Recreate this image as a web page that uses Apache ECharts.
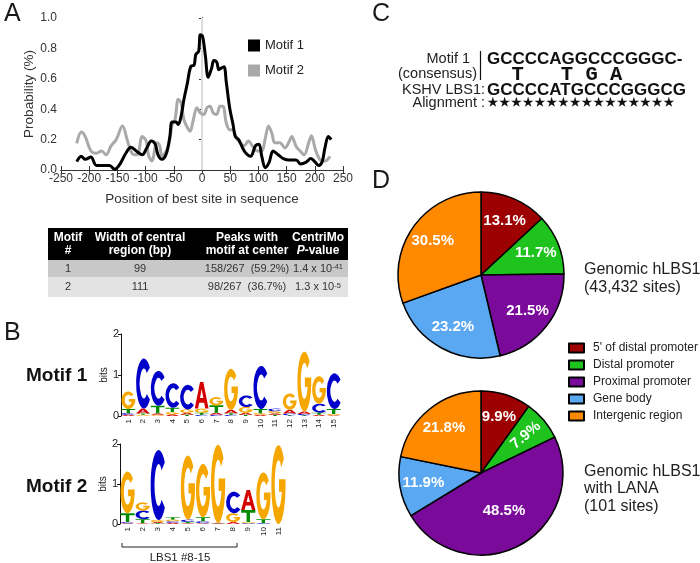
<!DOCTYPE html>
<html><head><meta charset="utf-8">
<script src="https://cdn.jsdelivr.net/npm/echarts@6/dist/echarts.min.js"></script>
<style>html,body{margin:0;padding:0;background:#fff}#c{width:700px;height:563px}</style>
</head><body><div id="c"></div><script>
// ---------- Panel A data ----------
const posTicks = [-250,-200,-150,-100,-50,0,50,100,150,200,250];
const motif1X = [-222,-214,-207,-197,-187,-164,-155,-147,-135,-126,-115,-106,-98,-90,-83,-78,-71,-63,-57,-53,-46,-42,-37,-32,-26,-20,-14,-11,-6,-3,1,6,11,17,21,26,30,34,39,43,49,55,59,65,72,78,86,95,101,106,112,119,126,135,144,155,167,175,184,193,201,207,213,218,224,229];
const motif1Y = [0.055,0.09,0.07,0.085,0.03,0.03,0.005,0.03,0.11,0.15,0.12,0.10,0.145,0.19,0.17,0.10,0.07,0.11,0.22,0.315,0.315,0.30,0.355,0.465,0.57,0.68,0.69,0.76,0.78,0.89,0.88,0.75,0.61,0.67,0.72,0.71,0.66,0.67,0.68,0.58,0.41,0.30,0.22,0.20,0.145,0.11,0.09,0.16,0.17,0.09,0.015,0.05,0.125,0.10,0.075,0.065,0.065,0.04,0.05,0.075,0.05,0.03,0.055,0.145,0.22,0.20];
const motif2X = [-222,-214,-207,-197,-187,-178,-170,-161,-152,-141,-132,-124,-115,-106,-99,-95,-89,-80,-75,-71,-62,-57,-53,-48,-42,-37,-32,-26,-21,-16,-9,-3,3,9,14,20,26,32,37,43,49,55,60,67,75,82,90,98,106,112,118,124,129,138,147,155,159,167,174,181,190,194,201,210,218,227];
const motif2Y = [0.175,0.25,0.22,0.125,0.11,0.125,0.10,0.16,0.20,0.29,0.19,0.11,0.10,0.22,0.19,0.10,0.06,0.18,0.16,0.09,0.135,0.20,0.30,0.33,0.465,0.44,0.33,0.28,0.255,0.32,0.41,0.375,0.365,0.41,0.42,0.375,0.365,0.42,0.42,0.31,0.265,0.265,0.22,0.18,0.16,0.19,0.155,0.125,0.125,0.205,0.29,0.24,0.18,0.18,0.145,0.19,0.22,0.155,0.125,0.10,0.19,0.225,0.135,0.065,0.06,0.09];

// ---------- Table data ----------
const tableHeaders = ['Motif\n#', 'Width of central\nregion (bp)', 'Peaks with\nmotif at center', 'CentriMo\nP-value'];
const tableMotif = ['1', '2'];
const tableWidth = ['99', '111'];
const tablePeaks = ['158/267', '98/267'];
const tablePct = ['(59.2%)', '(36.7%)'];
const tablePMant = ['1.4', '1.3'];
const tablePExp = ['-41', '-5'];

// ---------- Panel B data (letter stacks bottom->top, bits) ----------
const logo1Ticks = ['1','2','3','4','5','6','7','8','9','10','11','12','13','14','15'];
const logo1 = [
  [['A',0.03],['C',0.04],['T',0.1],['G',0.43]],
  [['G',0.03],['T',0.03],['A',0.12],['C',1.22]],
  [['G',0.03],['A',0.04],['T',0.18],['C',0.85]],
  [['A',0.04],['G',0.06],['T',0.1],['C',0.6]],
  [['T',0.03],['A',0.05],['G',0.08],['C',0.6]],
  [['C',0.03],['T',0.05],['G',0.1],['A',0.65]],
  [['C',0.03],['A',0.05],['T',0.18],['G',0.2]],
  [['C',0.03],['T',0.04],['A',0.08],['G',1.0]],
  [['T',0.03],['A',0.05],['G',0.14],['C',0.28]],
  [['A',0.03],['G',0.04],['T',0.1],['C',1.05]],
  [['T',0.03],['A',0.04],['G',0.05],['C',0.06]],
  [['T',0.02],['C',0.04],['A',0.09],['G',0.4]],
  [['T',0.02],['C',0.03],['A',0.06],['G',1.46]],
  [['A',0.03],['T',0.05],['C',0.22],['G',0.67]],
  [['A',0.02],['G',0.03],['T',0.12],['C',0.87]]
];
const logo2Ticks = ['1','2','3','4','5','6','7','8','9','10','11'];
const logo2 = [
  [['A',0.02],['C',0.03],['T',0.22],['G',1.04]],
  [['A',0.02],['T',0.1],['C',0.22],['G',0.2]],
  [['T',0.02],['A',0.03],['G',0.05],['C',1.75]],
  [['A',0.03],['C',0.04],['G',0.04],['T',0.06]],
  [['A',0.02],['T',0.03],['C',0.06],['G',1.6]],
  [['A',0.02],['C',0.05],['T',0.1],['G',1.33]],
  [['T',0.01],['A',0.02],['G',1.95]],
  [['A',0.05],['G',0.22],['C',0.54]],
  [['C',0.02],['G',0.03],['T',0.3],['A',0.5]],
  [['C',0.02],['T',0.1],['G',1.17]],
  [['G',1.97]]
];
const logoTicksY = [0, 1, 2];

// ---------- Panel C text ----------
const consensusTop = 'GCCCCAGGCCCGGGC-';
const consensusAlt = '  T   T G A';
const kshvSeq = 'GCCCCATGCCCGGGCG';
const alignStars = '★★★★★★★★★★★★★★★★';

// ---------- Panel D data ----------
const regionNames = ["5' of distal promoter", 'Distal promoter', 'Proximal promoter', 'Gene body', 'Intergenic region'];
const genomicPct = [13.1, 11.7, 21.5, 23.2, 30.5];
const lanaPct = [9.9, 7.9, 48.5, 11.9, 21.8];

// ---------- styles ----------
const FONT = "'Liberation Sans', Arial, sans-serif";
const regionColors = ['#9c0000', '#1ec31e', '#7a0a9a', '#5aa8f2', '#ff8a00'];
const LETTERS = ['A','C','G','T'];
const letterColors = ['#d40000', '#0000c8', '#f5a700', '#008c00'];
const letterPaths = [
  'M0,100 L38,0 L62,0 L100,100 L76,100 L68,78 L32,78 L24,100 Z M38,60 L62,60 L50,26 Z',
  'M88,18 A50,50 0 1 0 88,82 L68,71 A26,30 0 1 1 68,29 Z',
  'M88,18 A50,50 0 1 0 100,56 L100,44 L54,44 L54,60 L74,60 A26,30 0 0 1 50,80 A26,30 0 0 1 24,50 A26,30 0 0 1 50,20 A26,30 0 0 1 70,29 Z',
  'M0,0 L100,0 L100,22 L62,22 L62,100 L38,100 L38,22 L0,22 Z'
];

function logoData(stacks) {
  const out = [];
  stacks.forEach((stack, i) => {
    let y = 0;
    stack.forEach(([l, h]) => { out.push([i, y, y + h, LETTERS.indexOf(l)]); y += h; });
  });
  return out;
}
function renderLetter(params, api) {
  const i = api.value(0), y0 = api.value(1), y1 = api.value(2), li = api.value(3);
  const p0 = api.coord([i, y0]), p1 = api.coord([i, y1]);
  const w = api.size([1, 0])[0] * 0.94;
  const h = p0[1] - p1[1];
  if (h < 0.3) return null;
  return {
    type: 'path',
    shape: { pathData: letterPaths[li], x: p0[0] - w / 2, y: p1[1], width: w, height: h, layout: 'cover' },
    style: { fill: letterColors[li] }
  };
}
function zip(xs, ys) { return xs.map((x, i) => [x, ys[i]]); }

const chart = echarts.init(document.getElementById('c'), null, { renderer: 'canvas' });

const txt = (text, x, y, opts) => Object.assign({
  type: 'text', x, y, silent: true,
  style: Object.assign({ text, fill: '#1a1a1a', fontFamily: FONT, fontSize: 13, align: 'left', verticalAlign: 'middle' }, opts || {})
});

const graphics = [];
// panel letters
graphics.push(txt('A', 4, 14, { fontSize: 25 }));
graphics.push(txt('B', 4, 333, { fontSize: 25 }));
graphics.push(txt('C', 372, 14, { fontSize: 25 }));
graphics.push(txt('D', 372, 181, { fontSize: 25 }));

// table
const colX = [68, 140, 247, 318];
graphics.push({ type: 'rect', silent: true, shape: { x: 48, y: 228, width: 300, height: 32 }, style: { fill: '#000' } });
graphics.push({ type: 'rect', silent: true, shape: { x: 48, y: 260, width: 300, height: 17 }, style: { fill: '#c8c8c8' } });
graphics.push({ type: 'rect', silent: true, shape: { x: 48, y: 277, width: 300, height: 20 }, style: { fill: '#e3e3e3' } });
tableHeaders.forEach((h, c) => {
  let text = h, rich;
  if (h.indexOf('P-value') >= 0) {
    text = '{b|CentriMo}\n{bi|P}{b|-value}';
    rich = { b: { fontWeight: 'bold', fontSize: 12, fill: '#fff', lineHeight: 13, fontFamily: FONT },
             bi: { fontWeight: 'bold', fontStyle: 'italic', fontSize: 12, fill: '#fff', lineHeight: 13, fontFamily: FONT } };
  }
  graphics.push(txt(text, colX[c], 244, { fill: '#fff', fontWeight: 'bold', fontSize: 12, lineHeight: 13, align: 'center', rich }));
});
const rowY = [268.5, 287];
tableMotif.forEach((m, r) => {
  const o = { fontSize: 11, fill: '#333', align: 'center' };
  graphics.push(txt(m, colX[0], rowY[r], o));
  graphics.push(txt(tableWidth[r], colX[1], rowY[r], o));
  graphics.push(txt(tablePeaks[r] + '  ' + tablePct[r], colX[2], rowY[r], o));
  graphics.push(txt(tablePMant[r] + ' x 10{s|' + tablePExp[r] + '}', colX[3], rowY[r], Object.assign({}, o, {
    rich: { s: { fontSize: 7.5, fill: '#333', verticalAlign: 'top', lineHeight: 8, fontFamily: FONT } }
  })));
});

// panel B labels
graphics.push(txt('Motif 1', 26, 376, { fontSize: 19, fontWeight: 'bold', fill: '#111' }));
graphics.push(txt('Motif 2', 26, 487, { fontSize: 19, fontWeight: 'bold', fill: '#111' }));
graphics.push({ type: 'polyline', silent: true, shape: { points: [[122, 543], [122, 547], [237, 547], [237, 543]] }, style: { stroke: '#222', lineWidth: 1, fill: null } });
graphics.push(txt('LBS1 #8-15', 180, 558, { fontSize: 11.5, align: 'center', fill: '#222' }));

// panel C
graphics.push(txt('Motif 1', 470, 59, { fontSize: 14.5, align: 'right', fill: '#222' }));
graphics.push(txt('(consensus)', 477, 74, { fontSize: 14.5, align: 'right', fill: '#222' }));
graphics.push({ type: 'line', silent: true, shape: { x1: 480.5, y1: 51, x2: 480.5, y2: 80 }, style: { stroke: '#111', lineWidth: 1.2 } });
graphics.push(txt(consensusTop, 487, 59, { fontSize: 17, fontWeight: 'bold', fill: '#111' }));
graphics.push(txt(consensusAlt, 487, 75, { fontSize: 20.5, fontWeight: 'bold', fontFamily: "'Liberation Mono', 'Courier New', monospace", fill: '#111' }));
graphics.push(txt('KSHV LBS1:', 485, 90, { fontSize: 14.5, align: 'right', fill: '#222' }));
graphics.push(txt(kshvSeq, 487, 90, { fontSize: 17, fontWeight: 'bold', fill: '#111' }));
graphics.push(txt('Alignment :', 485, 103, { fontSize: 14.5, align: 'right', fill: '#222' }));
graphics.push(txt(alignStars, 487, 102, { fontSize: 19.5, fontFamily: "'DejaVu Sans Mono', monospace", fill: '#111' }));

// panel D side texts
graphics.push(txt('Genomic hLBS1\n(43,432 sites)', 584, 279, { fontSize: 16, lineHeight: 18, fill: '#222' }));
graphics.push(txt('Genomic hLBS1\nwith LANA\n(101 sites)', 584, 489, { fontSize: 16, lineHeight: 17.5, fill: '#222' }));

const pieData = vals => vals.map((v, i) => ({ name: regionNames[i], value: v, itemStyle: { color: regionColors[i] } }));
const pieLabelData = vals => vals.map((v, i) => ({ name: regionNames[i], value: v }));

const logoY = (idx) => ({
  type: 'value', gridIndex: idx, min: 0, max: 2, interval: 1,
  name: 'bits', nameLocation: 'middle', nameGap: 7, nameRotate: 90,
  nameTextStyle: { fontSize: 10, color: '#222', fontFamily: FONT },
  axisLine: { show: true, lineStyle: { color: '#111', width: 1 } },
  axisTick: { show: true, length: 3, lineStyle: { color: '#111' } },
  axisLabel: { fontSize: 11, color: '#222', margin: 2, fontFamily: FONT, formatter: v => logoTicksY.indexOf(v) >= 0 ? String(v) : '' },
  splitLine: { show: false }
});
const logoX = (idx, ticks) => ({
  type: 'category', gridIndex: idx, data: ticks,
  axisLine: { show: false }, axisTick: { show: false },
  axisLabel: { rotate: 90, fontSize: 8, margin: 3, color: '#222', fontFamily: FONT, interval: 0 }
});

const option = {
  animation: false,
  textStyle: { fontFamily: FONT },
  grid: [
    { left: 61, top: 18, width: 282, height: 152 },
    { left: 121, top: 334, width: 220, height: 82 },
    { left: 120, top: 444, width: 166, height: 80 }
  ],
  xAxis: [
    { type: 'value', gridIndex: 0, min: -250, max: 250, interval: 50,
      name: 'Position of best site in sequence', nameLocation: 'middle', nameGap: 22,
      nameTextStyle: { fontSize: 13.5, color: '#333', fontFamily: FONT },
      axisLine: { lineStyle: { color: '#333', width: 1 } },
      axisTick: { inside: true, length: 4, lineStyle: { color: '#333' } },
      axisLabel: { fontSize: 12, color: '#333', margin: 3, fontFamily: FONT, formatter: v => posTicks.indexOf(v) >= 0 ? String(v) : '' },
      splitLine: { show: false } },
    { type: 'value', gridIndex: 0, position: 'top', min: -250, max: 250, interval: 50,
      axisLine: { lineStyle: { color: '#333', width: 1 } },
      axisTick: { inside: true, length: 4, lineStyle: { color: '#333' } },
      axisLabel: { show: false }, splitLine: { show: false } },
    logoX(1, logo1Ticks),
    logoX(2, logo2Ticks)
  ],
  yAxis: [
    { type: 'value', gridIndex: 0, min: 0, max: 1, interval: 0.2,
      name: 'Probability (%)', nameLocation: 'middle', nameGap: 24, nameRotate: 90,
      nameTextStyle: { fontSize: 13.5, color: '#333', fontFamily: FONT },
      axisLine: { show: true, lineStyle: { color: '#333', width: 1 } },
      axisTick: { show: true, length: 3, lineStyle: { color: '#333' } },
      axisLabel: { fontSize: 12, color: '#333', margin: 4, fontFamily: FONT, formatter: v => v.toFixed(1) },
      splitLine: { show: false } },
    { type: 'value', gridIndex: 0, position: 'right', min: 0, max: 1,
      axisLine: { show: true, lineStyle: { color: '#333', width: 1 } },
      axisTick: { show: false }, axisLabel: { show: false }, splitLine: { show: false } },
    logoY(1),
    logoY(2)
  ],
  legend: [
    { data: ['Motif 1', 'Motif 2'], orient: 'vertical', left: 248, top: 39, itemWidth: 12, itemHeight: 12, itemGap: 12,
      icon: 'rect', padding: 0, textStyle: { fontSize: 13, color: '#222', fontFamily: FONT }, selectedMode: false },
    { data: regionNames, orient: 'vertical', left: 568, top: 342, itemWidth: 15, itemHeight: 9, itemGap: 5,
      icon: 'rect', padding: 0, textStyle: { fontSize: 12, color: '#222', fontFamily: FONT, padding: [0, 0, 0, 4] }, selectedMode: false }
  ],
  series: [
    { type: 'line', name: 'Motif 2', xAxisIndex: 0, yAxisIndex: 0, data: zip(motif2X, motif2Y), color: '#a9a9a9',
      showSymbol: false, symbol: 'none', smooth: 0.35, lineStyle: { width: 3, color: '#a9a9a9' }, z: 3,
      markLine: { silent: true, symbol: 'none', label: { show: false }, lineStyle: { color: '#dcdcdc', width: 2, type: 'solid' }, data: [{ xAxis: 0 }], z: 1 } },
    { type: 'line', name: 'Motif 1', xAxisIndex: 0, yAxisIndex: 0, data: zip(motif1X, motif1Y), color: '#000',
      showSymbol: false, symbol: 'none', smooth: 0.35, lineStyle: { width: 3, color: '#000' }, z: 4 },
    { type: 'custom', xAxisIndex: 2, yAxisIndex: 2, data: logoData(logo1), renderItem: renderLetter, encode: { x: 0, y: [1, 2] }, silent: true },
    { type: 'custom', xAxisIndex: 3, yAxisIndex: 3, data: logoData(logo2), renderItem: renderLetter, encode: { x: 0, y: [1, 2] }, silent: true },
    { type: 'pie', center: [481, 275], radius: 83, startAngle: 90, clockwise: true, silent: true,
      itemStyle: { borderColor: '#000', borderWidth: 1.5 }, label: { show: false }, labelLine: { show: false }, data: pieData(genomicPct) },
    { type: 'pie', center: [481, 473], radius: 82, startAngle: 90, clockwise: true, silent: true,
      itemStyle: { borderColor: '#000', borderWidth: 1.5 }, label: { show: false }, labelLine: { show: false }, data: pieData(lanaPct) },
    { type: 'pie', center: [481, 275], radius: [29, 83], startAngle: 90, clockwise: true, silent: true, z: 5,
      itemStyle: { color: 'rgba(0,0,0,0)', borderWidth: 0 },
      label: { show: true, position: 'inside', formatter: '{c}%', color: '#fff', fontWeight: 'bold', fontSize: 15, fontFamily: FONT },
      labelLine: { show: false }, data: pieLabelData(genomicPct) },
    { type: 'pie', center: [481, 473], radius: [29, 82], startAngle: 90, clockwise: true, silent: true, z: 5,
      itemStyle: { color: 'rgba(0,0,0,0)', borderWidth: 0 },
      label: { show: true, position: 'inside', formatter: '{c}%', color: '#fff', fontWeight: 'bold', fontSize: 15, fontFamily: FONT },
      labelLine: { show: false },
      labelLayout: p => p.dataIndex === 2 ? { dx: -5, dy: -13 } : {},
      data: pieLabelData(lanaPct).map((d, i) => i === 1 ? Object.assign(d, { label: { rotate: 'radial' } }) : d) }
  ],
  graphic: { elements: graphics }
};
chart.setOption(option);
</script></body></html>
